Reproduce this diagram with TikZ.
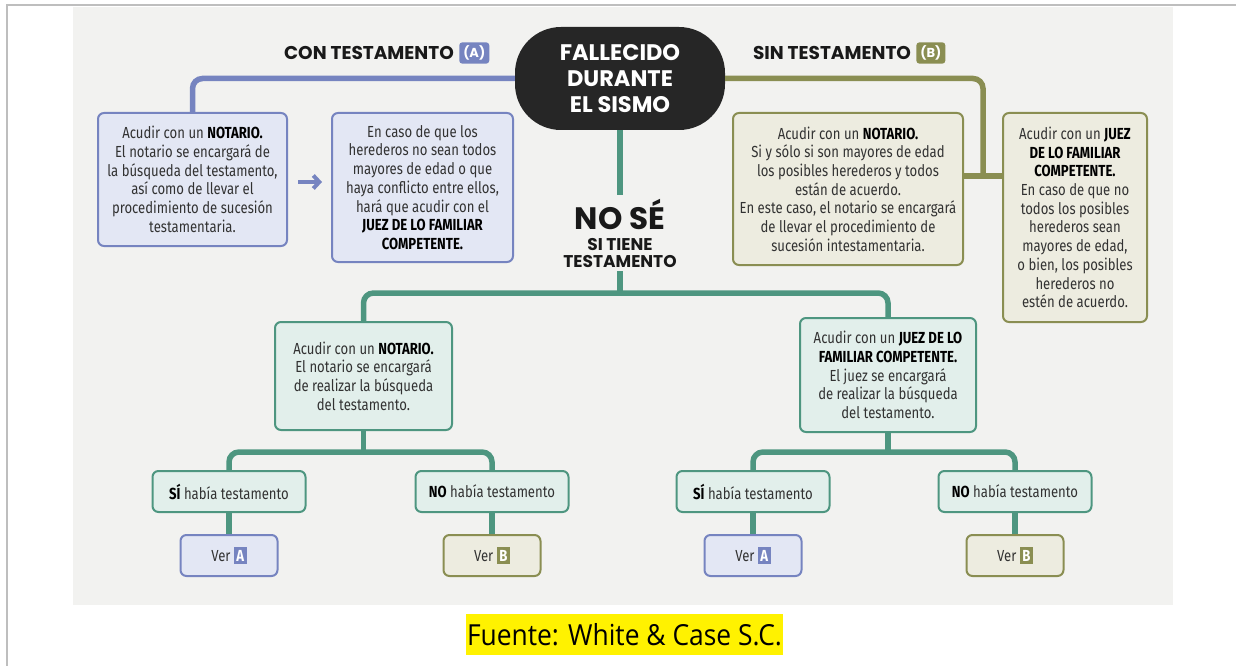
\documentclass[tikz,border=0pt]{standalone}
\usepackage{fontspec}
\setmainfont{Fira Sans}[FakeStretch=0.82]
\newfontfamily\headfont{Poppins}
\newfontfamily\srcfont{Open Sans}[FakeStretch=0.91]
\usetikzlibrary{positioning,arrows.meta}

\definecolor{panelbg}{RGB}{242,242,240}
\definecolor{framegray}{RGB}{190,190,190}
\definecolor{nodeblack}{RGB}{38,38,38}
\definecolor{blueln}{RGB}{118,132,192}
\definecolor{bluefill}{RGB}{227,231,244}
\definecolor{oliveln}{RGB}{138,142,82}
\definecolor{olivefill}{RGB}{237,236,224}
\definecolor{tealln}{RGB}{78,150,128}
\definecolor{tealfill}{RGB}{226,239,235}
\definecolor{txtgray}{RGB}{50,50,50}
\definecolor{headblack}{RGB}{25,25,25}

\newcommand{\lettertag}[2]{{\setlength{\fboxsep}{2.5pt}\colorbox{#1}{\textcolor{white}{\bfseries #2}}}}

\begin{document}
\begin{tikzpicture}[x=1pt, y=-1pt,
    box/.style={rectangle, rounded corners=6pt, line width=2pt, align=center, text=txtgray, inner sep=2pt, font=\fontsize{16}{18.7}\selectfont},
    bluebox/.style={box, draw=blueln, fill=bluefill},
    olivebox/.style={box, draw=oliveln, fill=olivefill},
    tealbox/.style={box, draw=tealln, fill=tealfill},
    answer/.style={tealbox, minimum width=153pt, minimum height=41pt},
    verbox/.style={box, minimum width=97pt, minimum height=41pt},
    start/.style={rectangle, rounded corners=46pt, fill=nodeblack, text=white, align=center, minimum width=210pt, minimum height=103pt, font=\headfont\bfseries\fontsize{22.5}{26}\selectfont},
    head/.style={inner sep=0pt, text=headblack, font=\headfont\bfseries\fontsize{18.5}{20}\selectfont},
    badge/.style={rectangle, rounded corners=3pt, text=white, inner xsep=4pt, minimum height=20pt, font=\headfont\bfseries\fontsize{13}{14}\selectfont},
    link/.style={line width=5.5pt, rounded corners=10pt},
    bluelink/.style={link, draw=blueln},
    olivelink/.style={link, draw=oliveln},
    teallink/.style={link, draw=tealln}
]
\useasboundingbox (0,0) rectangle (1236,666);
\fill[panelbg] (73,7) rectangle (1173,605);
\draw[framegray, line width=2pt] (7,666) -- (7,5) -- (1236,5);

\node[start] (fall) at (620,78.5) {FALLECIDO\\DURANTE\\EL SISMO};

\node[head] (conh) at (369,53) {CON TESTAMENTO};
\node[badge, fill=blueln, right=5pt of conh] (tagA) {(A)};
\node[head] (sinh) at (832,53) {SIN TESTAMENTO};
\node[badge, fill=oliveln, right=5pt of sinh] (tagB) {(B)};

% con testamento
\node[bluebox, minimum width=189pt, minimum height=133pt] (b1) at (192.5,179.5) {Acudir con un \textcolor{black}{\bfseries NOTARIO.}\\El notario se encargará de\\la búsqueda del testamento,\\así como de llevar el\\procedimiento de sucesión\\testamentaria.};
\node[bluebox, minimum width=181pt, minimum height=149pt] (b2) at (422.5,187.5) {En caso de que los\\herederos no sean todos\\mayores de edad o que\\haya conflicto entre ellos,\\hará que acudir con el\\\textcolor{black}{\bfseries JUEZ DE LO FAMILIAR}\\\textcolor{black}{\bfseries COMPETENTE.}};

% sin testamento
\node[olivebox, minimum width=230pt, minimum height=152pt] (b3) at (848,189) {Acudir con un \textcolor{black}{\bfseries NOTARIO.}\\Si y sólo si son mayores de edad\\los posibles herederos y todos\\están de acuerdo.\\En este caso, el notario se encargará\\de llevar el procedimiento de\\sucesión intestamentaria.};
\node[olivebox, minimum width=144pt, minimum height=209pt] (b4) at (1075,217.5) {Acudir con un \textcolor{black}{\bfseries JUEZ}\\\textcolor{black}{\bfseries DE LO FAMILIAR}\\\textcolor{black}{\bfseries COMPETENTE.}\\En caso de que no\\todos los posibles\\herederos sean\\mayores de edad,\\o bien, los posibles\\herederos no\\estén de acuerdo.};

% no se
\node[align=center, inner xsep=0pt, inner ysep=4pt, text=headblack, font=\headfont\bfseries\fontsize{17}{17}\selectfont] (nose) at (620,233) {{\fontsize{31}{31}\selectfont NO SÉ}\\[4pt]SI TIENE\\TESTAMENTO};

\node[tealbox, minimum width=177pt, minimum height=108pt] (b5) at (363.5,376) {Acudir con un \textcolor{black}{\bfseries NOTARIO.}\\El notario se encargará\\de realizar la búsqueda\\del testamento.};
\node[tealbox, minimum width=176pt, minimum height=114pt] (b6) at (888,375) {Acudir con un \textcolor{black}{\bfseries JUEZ DE LO}\\\textcolor{black}{\bfseries FAMILIAR COMPETENTE.}\\El juez se encargará\\de realizar la búsqueda\\del testamento.};

\node[answer] (b7) at (229,491.5) {\textcolor{black}{\bfseries SÍ} había testamento};
\node[answer] (b8) at (492,491.5) {\textcolor{black}{\bfseries NO} había testamento};
\node[answer] (b9) at (753,491.5) {\textcolor{black}{\bfseries SÍ} había testamento};
\node[answer] (b10) at (1015,491.5) {\textcolor{black}{\bfseries NO} había testamento};

\node[verbox, draw=blueln, fill=bluefill] (v1) at (229,555.5) {Ver \lettertag{blueln}{A}};
\node[verbox, draw=oliveln, fill=olivefill] (v2) at (492,555.5) {Ver \lettertag{oliveln}{B}};
\node[verbox, draw=blueln, fill=bluefill] (v3) at (753,555.5) {Ver \lettertag{blueln}{A}};
\node[verbox, draw=oliveln, fill=olivefill] (v4) at (1015,555.5) {Ver \lettertag{oliveln}{B}};

\coordinate (arow) at (0,182);
\coordinate (oj) at (983,176);
\coordinate (bar1) at (0,293);
\coordinate (bar2) at (0,452);

\draw[bluelink] (fall.west) -| (b1.north);
\draw[blueln, line width=4pt, shorten <=10pt, shorten >=9pt, -{Straight Barb[length=6pt, width=13pt]}] (b1.east |- arow) -- (b2.west |- arow);

\draw[olivelink] (fall.east) -| (oj);
\draw[olivelink] (b3.east |- oj) -- (b4.west |- oj);

\draw[teallink] (fall.south) -- (nose.north);
\draw[teallink] (nose.south) -- (nose.south |- bar1);
\draw[teallink] (b5.north) -- (b5.north |- bar1) -- (b6.north |- bar1) -- (b6.north);

\draw[teallink] (b5.south) -- (b5.south |- bar2);
\draw[teallink] (b7.north) -- (b7.north |- bar2) -- (b8.north |- bar2) -- (b8.north);
\draw[teallink] (b6.south) -- (b6.south |- bar2);
\draw[teallink] (b9.north) -- (b9.north |- bar2) -- (b10.north |- bar2) -- (b10.north);

\draw[teallink] (b7.south) -- (v1.north);
\draw[teallink] (b8.south) -- (v2.north);
\draw[teallink] (b9.south) -- (v3.north);
\draw[teallink] (b10.south) -- (v4.north);

\node[fill=yellow, inner xsep=1pt, inner ysep=0pt, minimum height=41pt, font=\srcfont\fontsize{29}{29}\selectfont] (src) at (624.5,634.5) {Fuente: White \& Case S.C.};

\end{tikzpicture}
\end{document}
